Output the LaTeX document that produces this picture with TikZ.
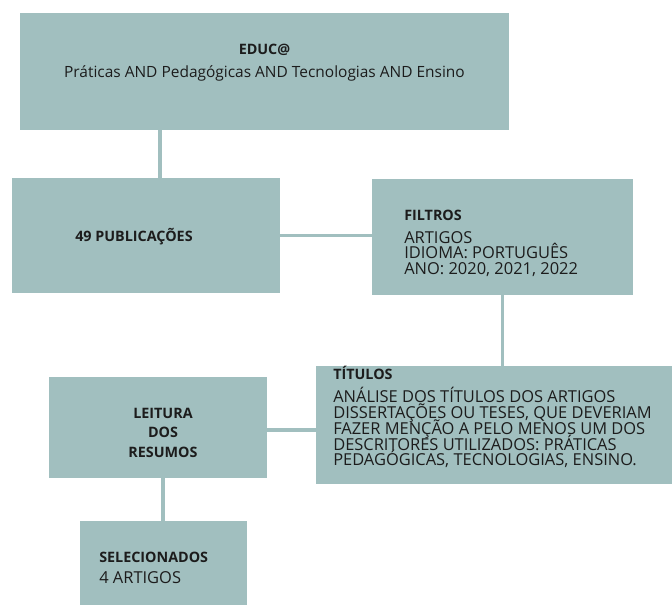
\documentclass[tikz,border=0pt]{standalone}
\usepackage{fontspec}
\setmainfont{Open Sans}
\usepackage{xcolor}
\definecolor{boxteal}{RGB}{161,191,191}
\definecolor{inktext}{RGB}{28,28,28}
\usepackage{tikz}
\usetikzlibrary{positioning}
\newcommand{\negr}[1]{{\fontsize{10.2}{11.2}\selectfont\bfseries #1}}
\newcommand{\apertado}{\lineskiplimit=-6pt\relax\lineskip=0pt\relax}

\begin{document}
\begin{tikzpicture}[
    caixa/.style={rectangle,fill=boxteal,draw=none,inner sep=0pt},
    texto/.style={inner sep=0pt,text=inktext,
      font=\fontsize{11.7}{11.2}\selectfont\apertado},
    liga/.style={draw=boxteal,line width=2.2pt}]
  \useasboundingbox (0,0) rectangle (16.8,15.125);
  % caixas
  \node[caixa,minimum width=12.225cm,minimum height=2.925cm] (busca) at (6.6125,13.3375) {};
  \node[caixa,minimum width=6.7cm,minimum height=2.875cm] (publi) at (3.65,9.2375) {};
  \node[caixa,minimum width=6.525cm,minimum height=2.9cm] (filtros) at (12.5625,9.2) {};
  \node[caixa,minimum width=8.9cm,minimum height=2.95cm] (titulos) at (12.35,4.5) {};
  \node[caixa,minimum width=5.45cm,minimum height=2.525cm] (leitura) at (3.95,4.4375) {};
  \node[caixa,minimum width=4.175cm,minimum height=2.1cm] (selec) at (4.0875,1.05) {};
  % textos
  \node[texto,font=\fontsize{11}{11.2}\selectfont\apertado,align=center,anchor=north] (tbusca) at (6.6125,14.025)
    {\negr{EDUC@}\\[5.2pt] Práticas AND Pedagógicas AND Tecnologias AND Ensino};
  \node[texto,anchor=west] (tpubli) at (1.875,9.2) {\negr{49 PUBLICAÇÕES}};
  \node[texto,align=left,anchor=north west] (tfiltros) at (10.1,9.8875)
    {\negr{FILTROS}\\[5.2pt] ARTIGOS\\ IDIOMA: PORTUGUÊS\\ ANO: 2020, 2021, 2022};
  \node[texto,align=left,anchor=north west] (ttitulos) at (8.325,5.99)
    {\negr{TÍTULOS}\\[5.8pt] ANÁLISE DOS TÍTULOS DOS ARTIGOS\\
     DISSERTAÇÕES OU TESES, QUE DEVERIAM\\ FAZER MENÇÃO A PELO MENOS UM DOS\\
     DESCRITORES UTILIZADOS: PRÁTICAS\\ PEDAGÓGICAS, TECNOLOGIAS, ENSINO.};
  \node[texto,align=center] (tleitura) at (4.075,4.3125)
    {\negr{LEITURA}\\[2.7pt] \negr{DOS}\\[2.7pt] \negr{RESUMOS}};
  \node[texto,align=left,anchor=north west] (tselec) at (2.475,1.325)
    {\negr{SELECIONADOS}\\[3.8pt] 4 ARTIGOS};
  % ligacoes
  \draw[liga] ([xshift=0.35cm]publi.north) -- ([xshift=0.35cm]publi.north |- busca.south);
  \draw[liga] (publi.east) -- (publi.east -| filtros.west);
  \draw[liga] (filtros.south) -- (filtros.south |- titulos.north);
  \draw[liga] ([yshift=-0.0625cm]leitura.east) -- ([yshift=-0.0625cm]leitura.east -| titulos.west);
  \draw[liga] ([xshift=-0.0125cm]selec.north) -- ([xshift=-0.0125cm]selec.north |- leitura.south);
\end{tikzpicture}
\end{document}
